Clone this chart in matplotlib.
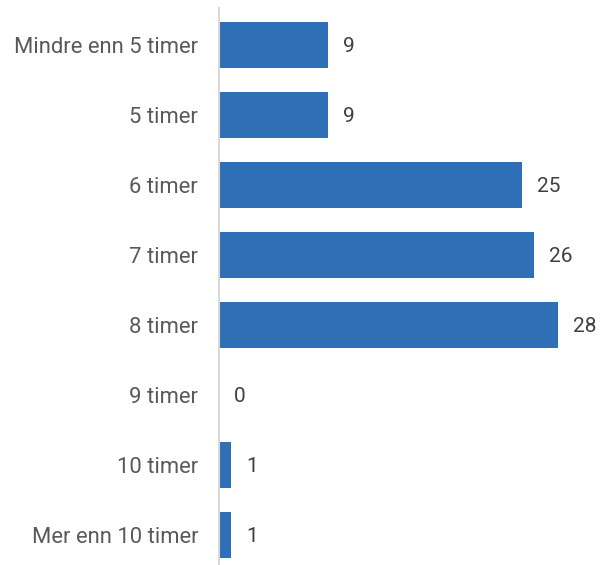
import matplotlib
matplotlib.use("Agg")
import matplotlib.pyplot as plt

categories = ["Mindre enn 5 timer", "5 timer", "6 timer", "7 timer",
              "8 timer", "9 timer", "10 timer", "Mer enn 10 timer"]
values = [9, 9, 25, 26, 28, 0, 1, 1]

plt.rcParams['font.family'] = ['Roboto', 'DejaVu Sans']

fig = plt.figure(figsize=(6.14, 5.65), dpi=100)
ax = fig.add_axes([219 / 614, 0, 390 / 614, 557 / 565])

y = range(len(categories))
ax.barh(y, values, height=0.66, color='#2E6FB5')

for yi, v in zip(y, values):
    ax.annotate(str(v), (v, yi), xytext=(11, -1), textcoords='offset points',
                va='center', ha='left', fontsize=15, color='#404040')

ax.set_xlim(0, 32.2)
ax.set_ylim(7.43, -0.53)
ax.set_yticks(list(y))
ax.set_yticklabels(categories, fontsize=15.8, color='#595959')
ax.tick_params(axis='y', length=0, pad=15)
ax.set_xticks([])

for side in ['top', 'right', 'bottom']:
    ax.spines[side].set_visible(False)
ax.spines['left'].set_color('#D9D9D9')
ax.spines['left'].set_linewidth(1.5)

fig.savefig("out.png", dpi=100)
